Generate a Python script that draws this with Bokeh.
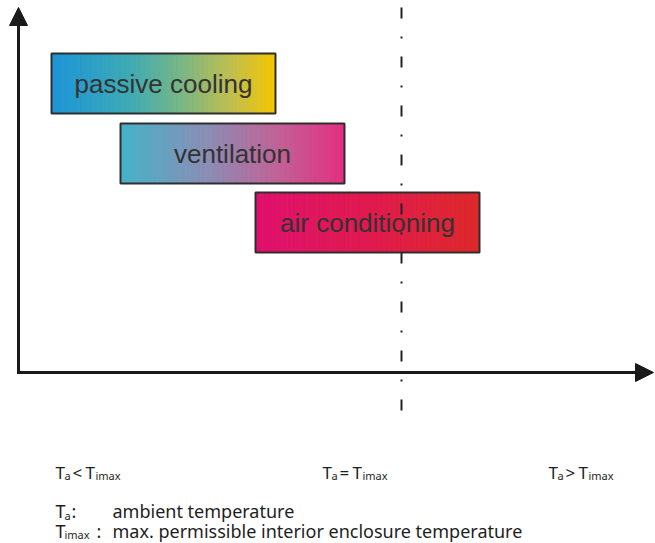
import numpy as np
from bokeh.plotting import figure
from bokeh.models import Range1d, Arrow, NormalHead, Label
from bokeh.core.properties import value
from bokeh.embed import file_html
from bokeh.resources import INLINE

# ---------------- data ----------------
# temperature scale: 0 = axis origin, threshold = Ta = Timax
modes = ["passive cooling", "ventilation", "air conditioning"]
mode_start = [33, 102, 237]
mode_end = [257, 326, 461]
mode_level = [289, 219, 150]
threshold = 383
region_ops = ["<", "=", ">"]
region_x = [37, 304, 530]
legend_subs = ["a", "imax"]
legend_texts = ["ambient temperature", "max. permissible interior enclosure temperature"]

# ---------------- style ----------------
gradients = [
    [(0.0, (28, 148, 215)), (0.35, (62, 170, 180)), (0.55, (112, 181, 140)),
     (0.8, (190, 190, 80)), (1.0, (245, 198, 0))],
    [(0.0, (68, 180, 200)), (0.4, (140, 140, 180)), (0.7, (192, 98, 150)),
     (1.0, (226, 48, 128))],
    [(0.0, (224, 16, 110)), (0.5, (224, 26, 80)), (1.0, (222, 40, 42))],
]
BOX_H = 60
FONT = "Noto Sans"
TXT = "#1e1e1e"

def interp(stops, t):
    for (t0, c0), (t1, c1) in zip(stops[:-1], stops[1:]):
        if t <= t1:
            f = (t - t0) / (t1 - t0) if t1 > t0 else 0
            c = [int(round(a + (b - a) * f)) for a, b in zip(c0, c1)]
            return "#%02x%02x%02x" % tuple(c)
    return "#%02x%02x%02x" % stops[-1][1]

p = figure(width=655, height=543, output_backend="svg", toolbar_location=None,
           x_range=Range1d(-18, 637), y_range=Range1d(-171, 372),
           min_border=0, background_fill_color="white", border_fill_color="white")
p.axis.visible = False
p.grid.visible = False
p.outline_line_color = None

# gradient boxes
N = 90
for name, x0, x1, yc, stops in zip(modes, mode_start, mode_end, mode_level, gradients):
    edges = np.linspace(x0, x1, N + 1)
    cols = [interp(stops, (k + 0.5) / N) for k in range(N)]
    p.quad(left=edges[:-1], right=edges[1:], bottom=yc - BOX_H / 2, top=yc + BOX_H / 2,
           fill_color=cols, line_color=cols, line_width=1)
    p.quad(left=[x0], right=[x1], bottom=[yc - BOX_H / 2], top=[yc + BOX_H / 2],
           fill_alpha=0, line_color="#2e2e2e", line_width=2)

p.text(x=[(a + b) / 2 for a, b in zip(mode_start, mode_end)], y=mode_level, text=modes,
       text_font=value("Liberation Sans"), text_font_size="26px", text_color="#333333",
       text_align="center", text_baseline="middle")

# threshold line
p.line(x=[threshold, threshold], y=[365, -38], line_color="#222222", line_width=2,
       line_dash="11 18 2 18")

# axes with arrows
p.add_layout(Arrow(end=NormalHead(size=18, fill_color="#1a1a1a", line_color="#1a1a1a"),
                   x_start=0, y_start=0, x_end=0, y_end=365,
                   line_width=3, line_color="#1a1a1a"))
p.add_layout(Arrow(end=NormalHead(size=18, fill_color="#1a1a1a", line_color="#1a1a1a"),
                   x_start=-1.5, y_start=0, x_end=635, y_end=0,
                   line_width=3, line_color="#1a1a1a"))

def lab(x, y, t, size):
    p.add_layout(Label(x=x, y=y, text=t, text_font=FONT, text_font_size=size,
                       text_color=TXT, text_baseline="alphabetic"))

# region labels
for op, x in zip(region_ops, region_x):
    lab(x, -100, "T", "17px")
    lab(x + 9, -103, legend_subs[0], "11px")
    lab(x + 17, -100, op, "17px")
    lab(x + 30, -100, "T", "17px")
    lab(x + 40, -103, legend_subs[1], "11px")

# legend
lab(37, -138, "T", "18px")
lab(46, -143, legend_subs[0], "11px")
lab(53, -138, ":", "18px")
lab(94, -138, legend_texts[0], "18px")
lab(37, -158, "T", "18px")
lab(46, -162, legend_subs[1], "11px")
lab(78, -158, ":", "18px")
lab(94, -158, legend_texts[1], "18px")

open("out.html", "w").write(file_html(p, INLINE))
